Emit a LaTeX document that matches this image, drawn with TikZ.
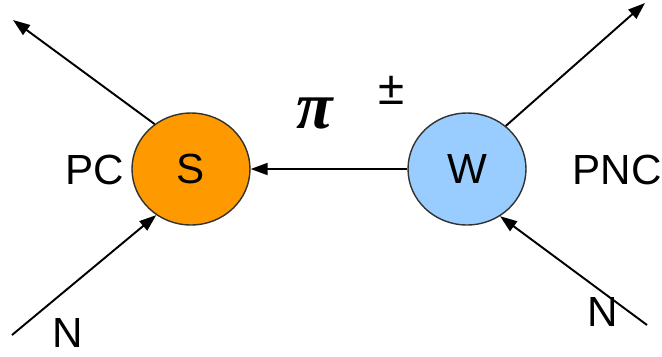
\documentclass[tikz,border=0pt]{standalone}
\usepackage{amsmath,amssymb}
\usepackage{fontspec}
\setmainfont{Liberation Sans}
\newfontfamily\pionfont{Liberation Serif}
\usepackage{xcolor}
\definecolor{strongorange}{RGB}{255,153,0}
\definecolor{weakblue}{RGB}{153,204,255}
\definecolor{rimgray}{RGB}{50,50,50}
\usepackage{tikz}
\usetikzlibrary{
    arrows.meta,
    positioning,
    shapes.geometric
}
\tikzset{
    vertex/.style   = {ellipse, draw=rimgray, thick, minimum width=2.36cm,
                       minimum height=2.24cm, inner sep=0pt,
                       font=\fontsize{24}{28}\selectfont},
    strongvx/.style = {vertex, fill=strongorange},
    weakvx/.style   = {vertex, fill=weakblue},
    leg/.style      = {-{Triangle[length=0.34cm, width=0.24cm]}, line width=1.1pt},
    legtext/.style  = {font=\fontsize{24}{28}\selectfont}
}

\begin{document}
\begin{tikzpicture}[x=0.02cm, y=-0.02cm]

\useasboundingbox (0,0) rectangle (662,356);

% ===== Vertices =====
\node[strongvx] (strong) at (191,169) {S};
\node[weakvx]   (weak)   at (467,169) {W};

% ===== Free ends of the nucleon legs =====
\coordinate (inS)  at (12,335);
\coordinate (outS) at (13,20);
\coordinate (inW)  at (647,325);
\coordinate (outW) at (645,3);

% ===== Legs =====
\draw[leg] (inS) -- (strong.-127);
\draw[leg] (strong.129) -- (outS);
\draw[leg] (inW) -- (weak.-55);
\draw[leg] (weak.48) -- (outW);

% ===== Pion exchange =====
\draw[leg] (weak.west) -- (strong.east);

% ===== Labels =====
\node[legtext] (pc)  at (95,170)  {PC};
\node[legtext] (pnc) at (617,170) {PNC};
\node[legtext] (nS)  at (68,333)  {N};
\node[legtext] (nW)  at (603,312) {N};
\node[font=\pionfont\bfseries\itshape\fontsize{38}{40}\selectfont] (pion) at (315,113) {π};
\node[font=\fontsize{27}{30}\selectfont] (charge) at (392,90) {±};

\end{tikzpicture}
\end{document}
